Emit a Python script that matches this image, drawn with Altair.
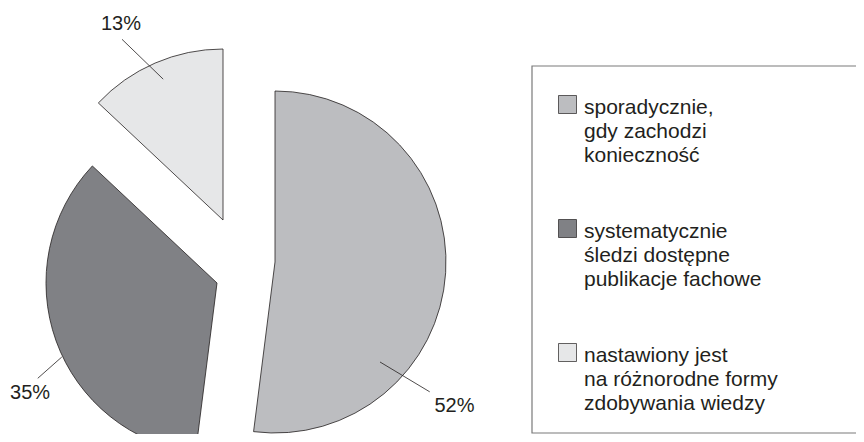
import altair as alt
import pandas as pd

# ---- data ----
categories = [
    "sporadycznie,\ngdy zachodzi\nkonieczność",
    "systematycznie\nśledzi dostępne\npublikacje fachowe",
    "nastawiony jest\nna różnorodne formy\nzdobywania wiedzy",
]
values = [52, 35, 13]
pct_labels = ["52%", "35%", "13%"]
colors = ["#BCBDC0", "#808185", "#E6E7E8"]

# ---- layout / style settings (pixels, degrees) ----
CX, CY, R = 239, 257, 171           # pie centre and radius
shift_x = [28, -30, -24]            # explode offset of each slice
shift_y = [-3, 18, -45]
label_angle = [128.7, 239.5, 332.5]
label_r = [230, 217, 221]
lead_in_angle = [133.6, 244.5, 337]
lead_in_r = [145, 172, 153]
lead_out_angle = [130, 242, 330.8]
lead_out_r = [202, 203, 207]
INK = "#231F20"
FONT = "Liberation Sans"

df = pd.DataFrame({
    "category": categories,
    "value": values,
    "label": pct_labels,
    "order": list(range(len(values))),
    "sx": shift_x,
    "sy": shift_y,
    "la": label_angle,
    "lr": label_r,
    "a1": lead_in_angle,
    "r1": lead_in_r,
    "a2": lead_out_angle,
    "r2": lead_out_r,
})

DEG = "PI / 180"
base = (
    alt.Chart(df)
    .transform_joinaggregate(total="sum(value)")
    .transform_window(cum="sum(value)", sort=[alt.SortField("order")], frame=[None, 0])
    .transform_calculate(t1="datum.cum / datum.total * 2 * PI")
    .transform_calculate(t0="(datum.cum - datum.value) / datum.total * 2 * PI")
    .transform_calculate(cx=f"{CX} + datum.sx")
    .transform_calculate(cy=f"{CY} + datum.sy")
    .transform_calculate(lx=f"datum.cx + datum.lr * sin(datum.la * {DEG})")
    .transform_calculate(ly=f"datum.cy - datum.lr * cos(datum.la * {DEG})")
    .transform_calculate(x1=f"datum.cx + datum.r1 * sin(datum.a1 * {DEG})")
    .transform_calculate(y1=f"datum.cy - datum.r1 * cos(datum.a1 * {DEG})")
    .transform_calculate(x2=f"datum.cx + datum.r2 * sin(datum.a2 * {DEG})")
    .transform_calculate(y2=f"datum.cy - datum.r2 * cos(datum.a2 * {DEG})")
)

arcs = base.mark_arc(radius=R, stroke=INK, strokeWidth=0.8).encode(
    x=alt.X("cx:Q", scale=None),
    y=alt.Y("cy:Q", scale=None),
    theta=alt.Theta("t0:Q", scale=None),
    theta2="t1:Q",
    color=alt.Color(
        "category:N",
        scale=alt.Scale(domain=categories, range=colors),
        legend=alt.Legend(
            title=None,
            orient="none",
            legendX=549,
            legendY=86,
            symbolType="square",
            symbolSize=324,
            symbolStrokeColor=INK,
            symbolStrokeWidth=0.7,
            labelFont=FONT,
            labelFontSize=21,
            labelColor=INK,
            labelExpr="split(datum.label, '\\n')",
            labelBaseline="alphabetic",
            labelOffset=6,
            labelLimit=400,
            rowPadding=52,
            padding=0,
        ),
    ),
)

leaders = base.mark_rule(color=INK, strokeWidth=0.8).encode(
    x=alt.X("x1:Q", scale=None),
    y=alt.Y("y1:Q", scale=None),
    x2="x2:Q",
    y2="y2:Q",
)

texts = base.mark_text(font=FONT, fontSize=20, color=INK).encode(
    x=alt.X("lx:Q", scale=None),
    y=alt.Y("ly:Q", scale=None),
    text="label:N",
)

box = (
    alt.Chart(pd.DataFrame({"k": [0]}))
    .mark_rect(fillOpacity=0, stroke="#7A7A7A", strokeWidth=1.2)
    .encode(x=alt.value(524), x2=alt.value(880), y=alt.value(58), y2=alt.value(425))
)

chart = (
    alt.layer(box, arcs, leaders, texts)
    .properties(width=848, height=426, padding=0, autosize="none")
    .configure(style={"guide-label": {"lineHeight": 24, "dy": 9}})
    .configure_view(stroke="transparent", strokeWidth=0)
)

chart.save("out.html", embed_options={"renderer": "svg", "actions": False})
